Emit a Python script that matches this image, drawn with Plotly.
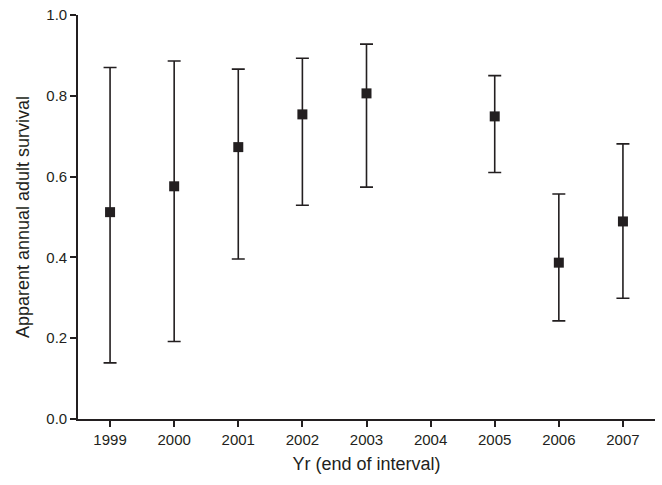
import plotly.graph_objects as go

years = [1999, 2000, 2001, 2002, 2003, 2005, 2006, 2007]
survival = [0.512, 0.576, 0.673, 0.754, 0.806, 0.749, 0.387, 0.489]
upper = [0.870, 0.886, 0.866, 0.893, 0.928, 0.850, 0.557, 0.681]
lower = [0.139, 0.192, 0.396, 0.529, 0.574, 0.610, 0.243, 0.299]
tick_years = [1999, 2000, 2001, 2002, 2003, 2004, 2005, 2006, 2007]
y_ticks = [0.0, 0.2, 0.4, 0.6, 0.8, 1.0]

ink = "#231f20"
err_plus = [u - s for u, s in zip(upper, survival)]
err_minus = [s - l for s, l in zip(survival, lower)]

fig = go.Figure()
fig.add_trace(go.Scatter(
    x=years, y=survival, mode="markers",
    marker=dict(symbol="square", size=10, color=ink),
    error_y=dict(type="data", symmetric=False, array=err_plus, arrayminus=err_minus,
                 color=ink, thickness=1.6, width=6.5),
    showlegend=False,
))

font = dict(family="Liberation Sans, Arial, Helvetica, sans-serif", size=15, color=ink)
fig.update_layout(
    width=662, height=485,
    margin=dict(l=78, r=7, t=15, b=66),
    plot_bgcolor="white", paper_bgcolor="white",
    font=font,
    xaxis=dict(
        range=[1998.5, 2007.5], tickmode="array", tickvals=tick_years,
        ticktext=[str(y) for y in tick_years],
        showgrid=False, zeroline=False, showline=True, linecolor=ink, linewidth=1.6,
        ticks="outside", ticklen=6, tickwidth=1.6, tickcolor=ink,
        tickfont=dict(size=15), automargin=False,
        title=dict(text="Yr (end of interval)", font=dict(size=18), standoff=11),
    ),
    yaxis=dict(
        range=[0, 1.0], tickmode="array", tickvals=y_ticks,
        ticktext=[f"{v:.1f}" for v in y_ticks],
        showgrid=False, zeroline=False, showline=True, linecolor=ink, linewidth=1.6,
        ticks="outside", ticklen=6, tickwidth=1.6, tickcolor=ink,
        tickfont=dict(size=15), automargin=False,
        title=dict(text="Apparent annual adult survival", font=dict(size=18), standoff=12),
    ),
)
fig.write_html("out.html", config={"displayModeBar": False},
               post_script="document.body.style.margin='0';")
